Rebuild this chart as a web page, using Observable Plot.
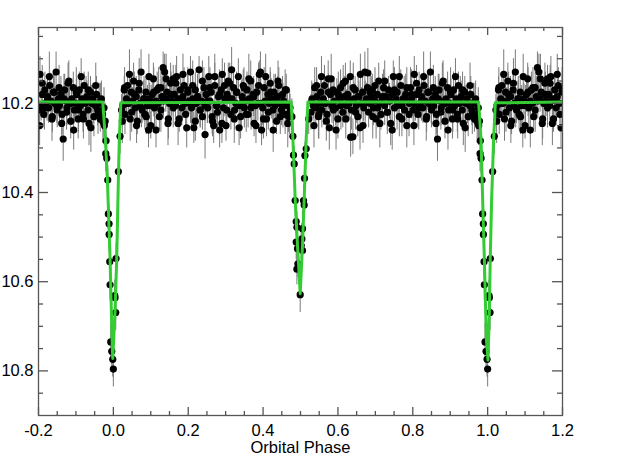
<!DOCTYPE html>
<html><head><meta charset="utf-8">
<script src="https://cdn.jsdelivr.net/npm/d3@7"></script>
<script src="https://cdn.jsdelivr.net/npm/@observablehq/plot@0.6"></script>
<style>html,body{margin:0;padding:0;background:#fff;overflow:hidden}</style>
</head><body><div id="chart"></div>
<script>
// Out-of-eclipse observations, first half of the orbit
const phaseA = [
0.022,0.025,0.029,0.031,0.035,0.038,0.041,0.045,0.048,0.051,
0.054,0.058,0.061,0.064,0.068,0.071,0.074,0.077,0.081,0.084,
0.087,0.091,0.094,0.097,0.100,0.104,0.107,0.110,0.114,0.117,
0.120,0.123,0.127,0.130,0.133,0.137,0.140,0.143,0.146,0.150,
0.153,0.156,0.160,0.163,0.166,0.169,0.173,0.176,0.179,0.183,
0.186,0.189,0.192,0.196,0.199,0.202,0.206,0.209,0.212,0.215,
0.219,0.222,0.225,0.229,0.232,0.235,0.238,0.242,0.245,0.248,
0.252,0.255,0.258,0.261,0.265,0.268,0.271,0.275,0.278,0.281,
0.284,0.288,0.291,0.294,0.298,0.301,0.304,0.307,0.311,0.314,
0.317,0.321,0.324,0.327,0.330,0.334,0.337,0.340,0.344,0.347,
0.350,0.353,0.357,0.360,0.363,0.367,0.370,0.373,0.376,0.380,
0.383,0.386,0.390,0.393,0.396,0.399,0.403,0.406,0.409,0.413,
0.416,0.419,0.422,0.426,0.429,0.432,0.436,0.439,0.442,0.445,
0.449,0.452,0.455,0.459,0.462,0.465,0.468,0.472];
const magA = [
10.215,10.205,10.17,10.225,10.19,10.16,10.2,10.235,10.175,10.195,
10.15,10.21,10.185,10.24,10.17,10.2,10.13,10.215,10.19,10.225,
10.175,10.205,10.26,10.19,10.25,10.18,10.145,10.21,10.195,10.17,
10.2,10.23,10.165,10.185,10.12,10.13,10.19,10.175,10.245,10.2,
10.155,10.195,10.145,10.18,10.205,10.14,10.19,10.235,10.17,10.21,
10.185,10.16,10.2,10.255,10.175,10.195,10.13,10.21,10.19,10.255,
10.17,10.2,10.185,10.125,10.215,10.195,10.23,10.165,10.205,10.18,
10.21,10.14,10.195,10.175,10.24,10.25,10.16,10.205,10.22,10.185,
10.26,10.17,10.135,10.21,10.19,10.25,10.18,10.15,10.155,10.225,
10.19,10.165,10.215,10.2,10.175,10.14,10.205,10.23,10.185,10.16,
10.21,10.195,10.17,10.225,10.19,10.15,10.2,10.18,10.245,10.205,
10.175,10.2,10.135,10.13,10.26,10.21,10.165,10.195,10.235,10.18,
10.2,10.155,10.19,10.215,10.175,10.205,10.24,10.185,10.16,10.2,
10.215,10.18,10.195,10.225,10.17,10.205,10.23,10.21];
const errA = [
.035,.04,.03,.045,.035,.03,.04,.05,.035,.03,
.04,.035,.045,.03,.04,.035,.05,.03,.04,.035,
.03,.045,.04,.035,.03,.04,.035,.045,.03,.04,
.035,.03,.04,.045,.035,.04,.03,.035,.05,.04,
.045,.035,.03,.04,.035,.045,.04,.03,.035,.04,
.03,.04,.035,.045,.04,.03,.035,.04,.05,.035,
.04,.035,.045,.03,.04,.035,.03,.045,.035,.04,
.035,.045,.03,.04,.035,.04,.05,.03,.035,.045,
.04,.03,.035,.045,.04,.035,.03,.04,.045,.035,
.03,.04,.045,.035,.03,.04,.035,.05,.04,.035,
.045,.035,.04,.03,.035,.045,.04,.035,.03,.04,
.035,.04,.03,.045,.035,.04,.045,.03,.04,.035,
.04,.035,.045,.03,.04,.035,.03,.045,.04,.035,
.035,.04,.03,.045,.035,.04,.035,.03];

// More out-of-eclipse observations, first half (second night)
const phaseC = [
0.024,0.030,0.036,0.043,0.049,0.056,0.062,0.069,0.075,0.082,
0.088,0.095,0.101,0.108,0.114,0.121,0.127,0.134,0.141,0.147,
0.154,0.160,0.167,0.173,0.180,0.186,0.193,0.199,0.206,0.212,
0.219,0.225,0.232,0.238,0.245,0.251,0.258,0.264,0.271,0.277,
0.284,0.290,0.297,0.303,0.310,0.316,0.323,0.329,0.336,0.342,
0.349,0.355,0.362,0.368,0.375,0.381,0.388,0.394,0.401,0.407,
0.414,0.420,0.427,0.433,0.440,0.446,0.453,0.459,0.466,0.471];
const magC = [
10.24,10.165,10.2,10.135,10.22,10.18,10.25,10.155,10.21,10.19,
10.23,10.14,10.205,10.175,10.26,10.165,10.215,10.195,10.145,10.235,
10.18,10.21,10.155,10.245,10.19,10.135,10.225,10.17,10.2,10.16,
10.24,10.185,10.215,10.15,10.27,10.195,10.165,10.23,10.14,10.205,
10.18,10.245,10.16,10.215,10.19,10.125,10.235,10.175,10.255,10.2,
10.165,10.225,10.145,10.21,10.185,10.25,10.16,10.2,10.235,10.14,
10.22,10.175,10.26,10.19,10.15,10.23,10.205,10.17,10.245,10.22];
const errC = [
.05,.045,.04,.055,.045,.05,.04,.055,.045,.05,
.04,.05,.045,.055,.04,.045,.05,.04,.055,.045,
.05,.045,.04,.05,.055,.045,.04,.05,.045,.055,
.045,.05,.04,.045,.055,.05,.045,.04,.05,.045,
.055,.045,.05,.04,.045,.05,.055,.045,.04,.05,
.045,.04,.055,.05,.045,.04,.05,.055,.045,.05,
.04,.045,.05,.055,.045,.04,.05,.045,.055,.05];

// Out-of-eclipse observations, second half of the orbit
const phaseB = [
0.528,0.531,0.534,0.538,0.541,0.544,0.548,0.551,0.554,0.557,
0.561,0.564,0.567,0.571,0.574,0.577,0.580,0.584,0.587,0.590,
0.594,0.597,0.600,0.603,0.607,0.610,0.613,0.617,0.620,0.623,
0.626,0.630,0.633,0.636,0.640,0.643,0.646,0.649,0.653,0.656,
0.659,0.663,0.666,0.669,0.672,0.676,0.679,0.682,0.686,0.689,
0.692,0.695,0.699,0.702,0.705,0.709,0.712,0.715,0.718,0.722,
0.725,0.728,0.732,0.735,0.738,0.741,0.745,0.748,0.751,0.755,
0.758,0.761,0.764,0.768,0.771,0.774,0.778,0.781,0.784,0.787,
0.791,0.794,0.797,0.801,0.804,0.807,0.810,0.814,0.817,0.820,
0.824,0.827,0.830,0.833,0.837,0.840,0.843,0.847,0.850,0.853,
0.856,0.860,0.863,0.866,0.870,0.873,0.876,0.879,0.883,0.886,
0.889,0.893,0.896,0.899,0.902,0.906,0.909,0.912,0.916,0.919,
0.922,0.925,0.929,0.932,0.935,0.939,0.942,0.945,0.948,0.952,
0.955,0.958,0.962,0.965,0.968,0.971,0.975,0.978];
const magB = [
10.22,10.19,10.205,10.165,10.21,10.185,10.23,10.2,10.175,10.215,
10.19,10.16,10.2,10.225,10.145,10.255,10.18,10.205,10.17,10.195,
10.21,10.175,10.235,10.19,10.165,10.2,10.22,10.185,10.15,10.205,
10.18,10.2,10.14,10.215,10.275,10.19,10.17,10.205,10.23,10.185,
10.255,10.2,10.175,10.21,10.13,10.19,10.165,10.22,10.2,10.185,
10.17,10.21,10.195,10.235,10.18,10.15,10.2,10.225,10.19,10.165,
10.205,10.185,10.22,10.17,10.195,10.245,10.18,10.14,10.21,10.19,
10.175,10.2,10.23,10.16,10.205,10.19,10.215,10.18,10.25,10.195,
10.2,10.165,10.19,10.215,10.135,10.205,10.18,10.225,10.17,10.2,
10.185,10.21,10.16,10.195,10.23,10.175,10.2,10.13,10.215,10.19,
10.205,10.18,10.225,10.28,10.17,10.195,10.21,10.155,10.2,10.24,
10.19,10.165,10.215,10.2,10.18,10.235,10.17,10.205,10.19,10.225,
10.16,10.2,10.185,10.215,10.245,10.175,10.2,10.19,10.23,10.205,
10.18,10.215,10.2,10.235,10.19,10.225,10.21,10.24];
const errB = [
.04,.035,.03,.045,.035,.04,.05,.03,.035,.04,
.035,.045,.04,.03,.04,.05,.035,.04,.03,.045,
.04,.03,.045,.035,.04,.03,.035,.045,.04,.035,
.03,.04,.035,.045,.04,.035,.03,.04,.045,.035,
.05,.035,.04,.03,.045,.035,.04,.035,.03,.045,
.035,.04,.03,.045,.035,.04,.045,.035,.03,.04,
.045,.035,.04,.03,.035,.05,.04,.035,.045,.03,
.04,.03,.045,.035,.04,.035,.03,.045,.05,.035,
.035,.045,.04,.03,.04,.035,.045,.03,.04,.035,
.04,.035,.03,.045,.035,.04,.035,.045,.04,.03,
.035,.04,.045,.05,.035,.03,.04,.045,.035,.04,
.045,.035,.03,.04,.035,.045,.04,.03,.035,.04,
.03,.04,.035,.045,.05,.035,.04,.03,.045,.035,
.04,.035,.045,.03,.04,.035,.045,.04];

// More out-of-eclipse observations, second half (second night)
const phaseD = [
0.530,0.536,0.543,0.549,0.556,0.562,0.569,0.575,0.582,0.588,
0.595,0.601,0.608,0.614,0.621,0.627,0.634,0.641,0.647,0.654,
0.660,0.667,0.673,0.680,0.686,0.693,0.699,0.706,0.712,0.719,
0.725,0.732,0.738,0.745,0.751,0.758,0.764,0.771,0.777,0.784,
0.790,0.797,0.803,0.810,0.816,0.823,0.829,0.836,0.842,0.849,
0.855,0.862,0.868,0.875,0.881,0.888,0.894,0.901,0.907,0.914,
0.920,0.927,0.933,0.940,0.946,0.953,0.959,0.966,0.972,0.976];
const magD = [
10.195,10.25,10.16,10.225,10.14,10.2,10.24,10.175,10.145,10.215,
10.26,10.18,10.205,10.155,10.235,10.19,10.276,10.165,10.22,10.185,
10.135,10.25,10.2,10.132,10.175,10.23,10.16,10.21,10.245,10.185,
10.15,10.22,10.195,10.26,10.17,10.205,10.14,10.235,10.19,10.165,
10.225,10.18,10.25,10.155,10.21,10.195,10.14,10.235,10.175,10.205,
10.165,10.245,10.19,10.22,10.15,10.2,10.26,10.175,10.215,10.14,
10.235,10.19,10.17,10.255,10.2,10.16,10.225,10.195,10.24,10.25];
const errD = [
.045,.05,.04,.055,.045,.05,.045,.04,.055,.05,
.045,.05,.055,.04,.045,.05,.045,.055,.04,.05,
.045,.04,.05,.055,.045,.05,.04,.045,.055,.05,
.045,.05,.04,.045,.05,.055,.045,.04,.05,.045,
.05,.055,.045,.04,.05,.045,.055,.05,.045,.04,
.05,.045,.055,.04,.045,.05,.045,.055,.05,.04,
.045,.05,.04,.055,.045,.05,.045,.04,.05,.045];

// In-eclipse observations (primary near 0, secondary near 0.5)
const eclPhase = [
0.0,0.0037,0.0045,0.0064,0.0072,0.0134,0.0179,0.9797,0.9805,0.9824,
0.985,0.9866,0.9885,0.9887,0.9904,0.9912,0.993,0.9957,0.9984,0.4797,
0.4813,0.4832,0.4858,0.4885,0.4904,0.4885,0.492,0.493,0.4904,0.4992,
0.5152,0.5118,0.5107,0.508,0.5099,0.5053,0.5037,0.5019,0.5053,0.477,
0.522,0.975];
const eclMag = [
10.796,10.631,10.636,10.669,10.548,10.353,10.274,10.313,10.284,10.323,
10.372,10.448,10.47,10.494,10.555,10.607,10.735,10.756,10.774,10.274,
10.316,10.336,10.418,10.465,10.478,10.511,10.526,10.56,10.572,10.629,
10.302,10.317,10.368,10.418,10.428,10.481,10.504,10.519,10.53,10.23,
10.235,10.245];
const eclErr = [
.04,.035,.03,.04,.035,.035,.04,.04,.035,.035,
.03,.035,.04,.035,.04,.035,.04,.035,.04,.035,
.03,.04,.035,.03,.035,.04,.035,.03,.035,.04,
.035,.03,.04,.035,.03,.04,.035,.03,.04,.04,
.035,.04];

// Model light curve
const modelPhase = [-0.2,-0.0283,-0.0214,-0.016,-0.0088,-0.0035,-0.0016,0.0045,0.009,0.0134,0.016,0.020,
  0.4751,0.4797,0.4858,0.492,0.4992,0.5053,0.5099,0.5152,0.5198,
  0.9759,0.9823,0.9866,0.9912,0.9965,1.001,1.0045,1.007,1.0107,1.016,1.0206,1.2];
const modelMag = [10.197,10.197,10.28,10.369,10.548,10.728,10.772,10.668,10.548,10.369,10.28,10.199,
  10.197,10.28,10.414,10.519,10.627,10.519,10.414,10.28,10.197,
  10.197,10.28,10.414,10.548,10.728,10.776,10.668,10.548,10.414,10.28,10.199,10.197];

// Tick labels
const xTickLabels = [-0.2, 0.0, 0.2, 0.4, 0.6, 0.8, 1.0, 1.2];
const yTickLabels = [10.2, 10.4, 10.6, 10.8];

// Build plotted table: phases shown from -0.2 to 1.2 (wrapped copies)
const obs = [];
function addObs(ph, mg, er) {
  const n = Math.min(ph.length, mg.length, er.length);
  for (let i = 0; i < n; i++) {
    for (const s of [-1, 0, 1]) {
      const p = ph[i] + s;
      if (p >= -0.2 && p <= 1.2) obs.push({phase: p, mag: mg[i], err: er[i]});
    }
  }
}
addObs(phaseA, magA, errA);
addObs(phaseC, magC, errC);
addObs(phaseB, magB, errB);
addObs(phaseD, magD, errD);
addObs(eclPhase, eclMag, eclErr);
const model = modelPhase.map((p, i) => ({phase: p, mag: modelMag[i]}));

const W = 639, H = 471;
const mL = 38, mR = 77, mT = 27, mB = 56;
const iw = W - mL - mR, ih = H - mT - mB;
const minorX = d3.range(-0.2, 1.2001, 0.05).filter(v => !xTickLabels.some(t => Math.abs(t - v) < 1e-6));
const minorY = d3.range(10.05, 10.8601, 0.05).filter(v => !yTickLabels.some(t => Math.abs(t - v) < 1e-6));
const axisCol = "#555";

const chart = Plot.plot({
  width: W, height: H,
  marginLeft: mL, marginRight: mR, marginTop: mT, marginBottom: mB,
  style: {fontFamily: "'Liberation Sans', Arial, Helvetica, sans-serif", fontSize: "16.5px", color: "black", background: "white"},
  x: {domain: [-0.2, 1.2]},
  y: {domain: [10.9, 10.03]},
  marks: [
    Plot.ruleX(obs, {x: "phase", y1: d => d.mag - d.err, y2: d => d.mag + d.err, stroke: "#7a7a7a", strokeWidth: 1, clip: true}),
    Plot.dot(obs, {x: "phase", y: "mag", r: 3.6, fill: "black", stroke: null, clip: true}),
    Plot.line(model, {x: "phase", y: "mag", stroke: "#33cc33", strokeWidth: 3, clip: true}),
    Plot.frame({stroke: axisCol, strokeWidth: 1.3}),
    // inward ticks: bottom/top
    Plot.ruleX(xTickLabels, {x: d => d, insetTop: ih - 8, stroke: axisCol, strokeWidth: 1.3}),
    Plot.ruleX(xTickLabels, {x: d => d, insetBottom: ih - 8, stroke: axisCol, strokeWidth: 1.3}),
    Plot.ruleX(minorX, {x: d => d, insetTop: ih - 4, stroke: axisCol, strokeWidth: 1.3}),
    Plot.ruleX(minorX, {x: d => d, insetBottom: ih - 4, stroke: axisCol, strokeWidth: 1.3}),
    // inward ticks: left/right
    Plot.ruleY(yTickLabels, {y: d => d, insetRight: iw - 10, stroke: axisCol, strokeWidth: 1.3}),
    Plot.ruleY(yTickLabels, {y: d => d, insetLeft: iw - 10, stroke: axisCol, strokeWidth: 1.3}),
    Plot.ruleY(minorY, {y: d => d, insetRight: iw - 5, stroke: axisCol, strokeWidth: 1.3}),
    Plot.ruleY(minorY, {y: d => d, insetLeft: iw - 5, stroke: axisCol, strokeWidth: 1.3}),
    Plot.axisX({ticks: xTickLabels, tickSize: 0, tickPadding: 9, tickFormat: d => d.toFixed(1),
      label: "Orbital Phase", labelAnchor: "center", labelArrow: "none", labelOffset: 37, fill: "black"}),
    Plot.axisY({ticks: yTickLabels, tickSize: 0, tickPadding: 5, tickFormat: d => d.toFixed(1), label: null, fill: "black"})
  ]
});
document.getElementById("chart").append(chart);
</script>
</body></html>
